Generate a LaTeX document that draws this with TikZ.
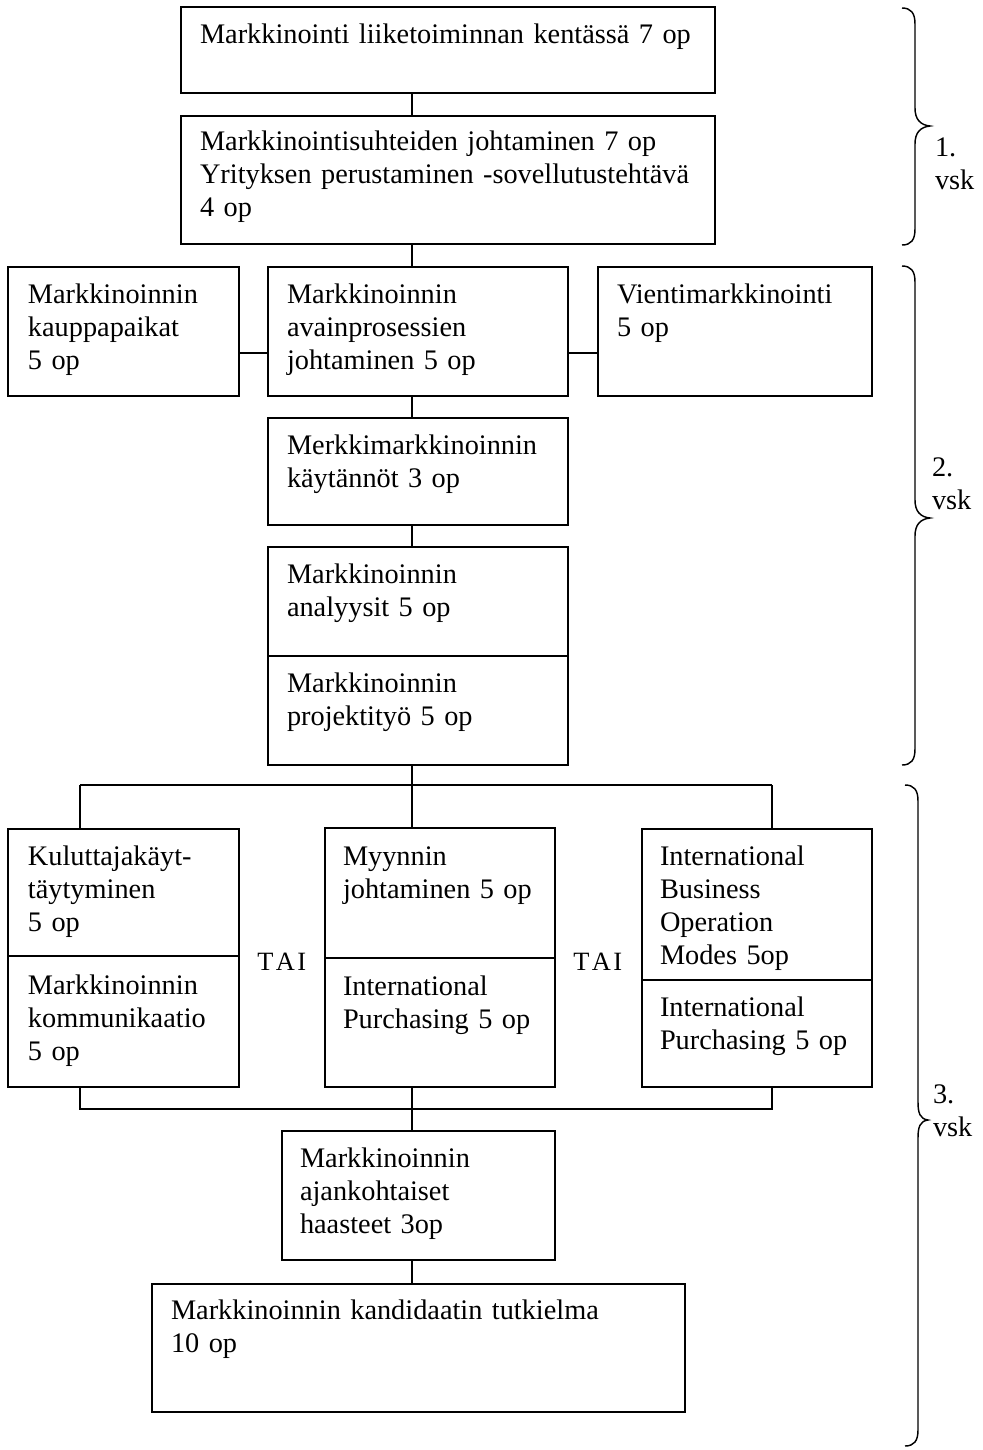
\documentclass[tikz,border=0pt]{standalone}
\usepackage{fontspec}
\setmainfont{Liberation Serif}
\usetikzlibrary{fit}
\tikzset{
  x=0.416667pt, y=-0.416667pt,
  box/.style={draw, line width=0.8pt, inner sep=0pt, outer sep=0pt},
  txt/.style={anchor=base west, inner sep=0pt, outer sep=0pt, text width=230pt, align=left,
    font=\fontsize{11.8pt}{13.8pt}\selectfont},
  tai/.style={anchor=base west, inner sep=0pt, font=\fontsize{11pt}{13pt}\selectfont},
  conn/.style={line width=0.6pt},
  brc/.style={line width=0.6pt}
}
\newcommand{\bx}[5]{\node[box, fit={(#2,#3)(#4,#5)}] (#1) {};}
\begin{document}
\begin{tikzpicture}
\useasboundingbox (0,0) rectangle (983,1450);
\fill[white] (0,0) rectangle (983,1450);
\coordinate (sp) at (412,0);
\coordinate (hy) at (0,353);

% year 1
\bx{b1}{181}{7}{715}{93}
\bx{b2}{181}{116}{715}{244}
\node[txt] (t1) at (200,43) {Markkinointi liiketoiminnan kentässä 7 op};
\node[txt] (t2) at (200,150) {Markkinointisuhteiden johtaminen 7 op\\Yrityksen perustaminen -sovellutustehtävä\\4 op};

% year 2
\bx{kp}{8}{267}{239}{396}
\bx{ap}{268}{267}{568}{396}
\bx{vi}{598}{267}{872}{396}
\bx{mm}{268}{418}{568}{525}
\bx{an}{268}{547}{568}{656}
\bx{pt}{268}{656}{568}{765}
\node[txt] (tkp) at (28,303) {Markkinoinnin\\kauppapaikat\\5 op};
\node[txt] (tap) at (287,303) {Markkinoinnin\\avainprosessien\\johtaminen 5 op};
\node[txt] (tvi) at (617,303) {Vientimarkkinointi\\5 op};
\node[txt] (tmm) at (287,454) {Merkkimarkkinoinnin\\käytännöt 3 op};
\node[txt] (tan) at (287,583) {Markkinoinnin\\analyysit 5 op};
\node[txt] (tpt) at (287,692) {Markkinoinnin\\projektityö 5 op};

% year 3
\bx{kul}{8}{829}{239}{956}
\bx{kom}{8}{956}{239}{1087}
\bx{myy}{325}{828}{555}{958}
\bx{ip1}{325}{958}{555}{1087}
\bx{ibom}{642}{829}{872}{980}
\bx{ip2}{642}{980}{872}{1087}
\bx{aja}{282}{1131}{555}{1260}
\bx{kand}{152}{1284}{685}{1412}
\node[txt] (tkul) at (28,865) {Kuluttajakäyt-\\täytyminen\\5 op};
\node[txt] (tkom) at (28,994) {Markkinoinnin\\kommunikaatio\\5 op};
\node[txt] (tmyy) at (343,865) {Myynnin\\johtaminen 5 op};
\node[txt] (tip1) at (343,995) {International\\Purchasing 5 op};
\node[txt] (tibom) at (660,865) {International\\Business\\Operation\\Modes 5op};
\node[txt] (tip2) at (660,1016) {International\\Purchasing 5 op};
\node[txt] (taja) at (300,1167) {Markkinoinnin\\ajankohtaiset\\haasteet 3op};
\node[txt] (tkand) at (171,1319) {Markkinoinnin kandidaatin tutkielma\\10 op};
\node[tai] (tai1) at (257,970) {T\kern1pt A\kern1pt I};
\node[tai] (tai2) at (573,970) {T\kern1pt A\kern1pt I};

% connectors
\draw[conn] (b1.south -| sp) -- (b2.north -| sp);
\draw[conn] (b2.south -| sp) -- (ap.north -| sp);
\draw[conn] (kp.east |- hy) -- (ap.west |- hy);
\draw[conn] (ap.east |- hy) -- (vi.west |- hy);
\draw[conn] (ap.south -| sp) -- (mm.north -| sp);
\draw[conn] (mm.south -| sp) -- (an.north -| sp);
\coordinate (cl) at (80,785);
\coordinate (cm) at (412,785);
\coordinate (cr) at (772,785);
\draw[conn] (pt.south -| sp) -- (cm);
\draw[conn] (cl) -- (cr);
\draw[conn] (cl) -- (kul.north -| cl);
\draw[conn] (cm) -- (myy.north -| cm);
\draw[conn] (cr) -- (ibom.north -| cr);
\coordinate (dl) at (80,1109);
\coordinate (dm) at (412,1109);
\coordinate (dr) at (772,1109);
\draw[conn] (kom.south -| dl) -- (dl) -- (dr) -- (ip2.south -| dr);
\draw[conn] (ip1.south -| dm) -- (dm) -- (aja.north -| dm);
\draw[conn] (aja.south -| sp) -- (kand.north -| sp);

% braces
\draw[brc] (902,8) .. controls (911,8) and (915,13) .. (915,24) -- (915,108)
  .. controls (915,119) and (920,125) .. (930,126)
  .. controls (920,127) and (915,133) .. (915,144) -- (915,229)
  .. controls (915,240) and (911,245) .. (902,245);
\draw[brc] (902,266) .. controls (911,266) and (915,271) .. (915,282) -- (915,500)
  .. controls (915,511) and (920,517) .. (930,518)
  .. controls (920,519) and (915,525) .. (915,536) -- (915,749)
  .. controls (915,760) and (911,765) .. (902,765);
\draw[brc] (905,785) .. controls (914,785) and (918,790) .. (918,801) -- (918,1102)
  .. controls (918,1113) and (920,1119) .. (928,1120)
  .. controls (920,1121) and (918,1127) .. (918,1138) -- (918,1430)
  .. controls (918,1441) and (914,1446) .. (905,1446);
\node[txt] (y1) at (935,156) {1.\\vsk};
\node[txt] (y2) at (932,476) {2.\\vsk};
\node[txt] (y3) at (933,1103) {3.\\vsk};
\end{tikzpicture}
\end{document}
